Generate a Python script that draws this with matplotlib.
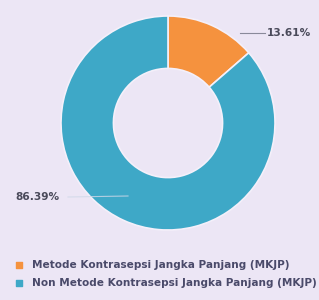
import matplotlib.pyplot as plt

labels = ['Metode Kontrasepsi Jangka Panjang (MKJP)',
          'Non Metode Kontrasepsi Jangka Panjang (MKJP)']
values = [13.61, 86.39]
colors = ['#f5923e', '#3ea8c7']
bg = '#ece6f5'

fig = plt.figure(figsize=(3.19, 3.0), dpi=100, facecolor=bg)
ax = fig.add_axes([0, 0, 1, 1])
ax.set_facecolor(bg)

cx, cy, r = 168, 177, 107
wedges, _ = ax.pie(values, colors=colors, startangle=90, counterclock=False,
                   center=(cx, cy), radius=r, frame=True,
                   wedgeprops=dict(width=r * 0.49, edgecolor='#f4f0fa', linewidth=1.2))
ax.set_xlim(0, 319)
ax.set_ylim(0, 300)
ax.set_aspect('equal')
ax.axis('off')

# value labels with leader lines
ax.plot([240, 265], [267, 267], color='#8a8a9a', lw=0.8)
ax.text(267, 267, f'{values[0]:.2f}%', fontsize=7.6, fontweight='bold',
        color='#4a4a5a', va='center')
ax.plot([68, 128], [103, 104], color='#cfd8e8', lw=0.8, alpha=0.8)
ax.text(15, 103, f'{values[1]:.2f}%', fontsize=7.6, fontweight='bold',
        color='#4a4a5a', va='center')

# legend
for i, (lab, c) in enumerate(zip(labels, colors)):
    y = 35 - i * 18
    ax.scatter([19], [y], marker='s', s=16, color=c)
    ax.text(32, y, lab, fontsize=7.6, fontweight='bold', color='#4a4a6a', va='center')

fig.savefig('out.png', dpi=100, facecolor=bg)
